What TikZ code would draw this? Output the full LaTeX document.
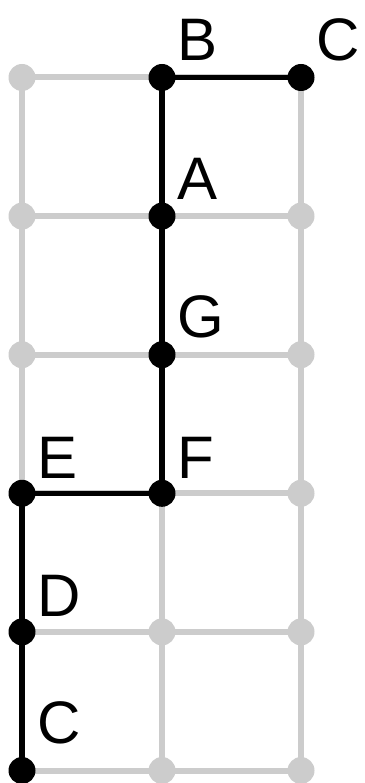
\documentclass[tikz,border=0pt]{standalone}
\usepackage{fontspec}
\setmainfont{Liberation Sans}
\usetikzlibrary{calc}
\definecolor{gridgray}{HTML}{CCCCCC}
\begin{document}
\begin{tikzpicture}[x=1pt,y=-1pt,
  gdot/.style={circle,fill=gridgray,inner sep=0pt,minimum size=27pt},
  bdot/.style={circle,fill=black,inner sep=0pt,minimum size=27pt},
  gline/.style={draw=gridgray,line width=6pt},
  bline/.style={draw=black,line width=5.5pt},
  lbl/.style={anchor=base west,inner sep=0pt,font=\fontsize{60}{72}\selectfont}]
\useasboundingbox (0,0) rectangle (364,783);
% grid coordinates
\foreach \c/\x in {0/22,1/162,2/301}{
  \foreach \r/\y in {0/77.5,1/216.1,2/354.7,3/493.3,4/631.9,5/770.5}{
    \coordinate (p\c\r) at (\x,\y);
  }
}
% gray grid lines
\foreach \r in {0,...,5}{ \draw[gline] (p0\r) -- (p2\r); }
\foreach \c in {0,1,2}{ \draw[gline] (p\c0) -- (p\c5); }
% black path
\draw[bline] (p20) -- (p10) -- (p11) -- (p12) -- (p13) -- (p03) -- (p04) -- (p05);
% gray dots
\foreach \p in {p00,p01,p02,p21,p22,p23,p14,p24,p15,p25}{
  \node[gdot] (d\p) at (\p) {};
}
% black dots
\node[bdot] (B) at (p10) {};
\node[bdot] (C1) at (p20) {};
\node[bdot] (A) at (p11) {};
\node[bdot] (G) at (p12) {};
\node[bdot] (F) at (p13) {};
\node[bdot] (E) at (p03) {};
\node[bdot] (D) at (p04) {};
\node[bdot] (C2) at (p05) {};
% labels
\node[lbl] (lB) at ($(B)+(15,-17)$) {B};
\node[lbl] (lC1) at ($(C1)+(15,-17)$) {C};
\node[lbl] (lA) at ($(A)+(15,-17)$) {A};
\node[lbl] (lG) at ($(G)+(15,-17)$) {G};
\node[lbl] (lF) at ($(F)+(15,-15)$) {F};
\node[lbl] (lE) at ($(E)+(15,-15)$) {E};
\node[lbl] (lD) at ($(D)+(15,-15)$) {D};
\node[lbl] (lC2) at ($(C2)+(15,-27)$) {C};
\end{tikzpicture}
\end{document}
